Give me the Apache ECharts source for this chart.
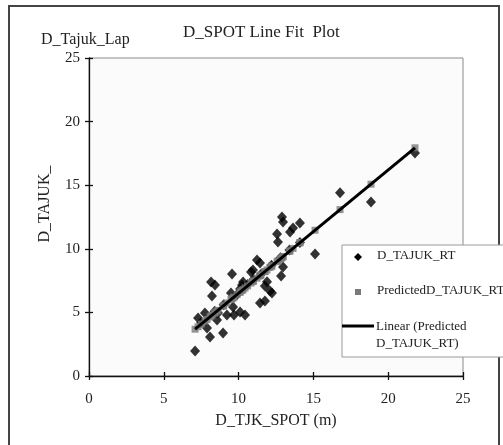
<!DOCTYPE html>
<html>
<head>
<meta charset="utf-8">
<script src="https://cdn.jsdelivr.net/npm/echarts@6/dist/echarts.min.js"></script>
<style>
  html, body { margin: 0; padding: 0; background: #fff; }
  #chart { width: 503px; height: 445px; }
</style>
</head>
<body>
<div id="chart"></div>
<script>
// Observed canopy diameter from field survey vs. SPOT-derived diameter
const spotX = [7.09, 8.09, 8.96, 7.89, 7.29, 7.75, 8.56, 8.62, 9.22, 9.69, 10.10, 10.43, 9.63, 8.22, 9.49,
  8.16, 8.42, 9.56, 10.23, 11.43, 11.76, 12.10, 12.23, 11.90, 11.76, 11.23, 11.43, 10.96, 10.83, 12.90,
  12.97, 13.44, 13.64, 14.10, 12.57, 12.63, 15.11, 12.97, 12.84, 10.30, 10.10, 16.78, 18.85, 21.79,
  9.0, 9.9, 10.6, 11.5, 12.2, 12.8, 13.4, 14.1, 8.4, 11.0, 7.5];
const tajukRT = [1.97, 3.07, 3.38, 3.77, 4.56, 4.95, 4.40, 4.95, 4.80, 4.80, 5.03, 4.80, 5.42, 6.29, 6.53,
  7.39, 7.15, 8.02, 7.15, 5.74, 5.90, 6.68, 6.52, 7.40, 7.08, 9.12, 8.88, 8.33, 8.18, 12.50,
  12.10, 11.32, 11.64, 12.03, 11.16, 10.53, 9.59, 8.57, 7.86, 7.39, 6.84, 14.40, 13.68, 17.53,
  5.6, 6.4, 7.2, 8.0, 8.7, 9.3, 9.9, 10.5, 5.1, 7.6, 4.2];
const predictedRT = [3.68, 4.65, 5.49, 4.45, 3.87, 4.32, 5.10, 5.16, 5.74, 6.20, 6.60, 6.92, 6.14, 4.77, 6.01,
  4.72, 4.97, 6.07, 6.72, 7.89, 8.21, 8.54, 8.66, 8.34, 8.21, 7.69, 7.89, 7.43, 7.31, 9.31,
  9.38, 9.84, 10.03, 10.48, 8.99, 9.05, 11.46, 9.38, 9.25, 6.79, 6.60, 13.08, 15.08, 17.94,
  5.53, 6.40, 7.08, 7.96, 8.63, 9.22, 9.80, 10.48, 4.95, 7.47, 4.08];
// Trendline end points (min and max x of the predicted series)
const trendX = [7.09, 21.79];
const trendY = [3.68, 17.94];
const axisTicks = [0, 5, 10, 15, 20, 25];

const FONT = '"Liberation Serif", "DejaVu Serif", serif';
const TXT = '#222';

const observed = spotX.map((x, i) => [x, tajukRT[i]]);
const predicted = spotX.map((x, i) => [x, predictedRT[i]]);
const trend = trendX.map((x, i) => [x, trendY[i]]);

const chart = echarts.init(document.getElementById('chart'), null, { renderer: 'canvas' });

const mainX = {
  type: 'value', min: axisTicks[0], max: axisTicks[axisTicks.length - 1], interval: 5,
  position: 'bottom',
  axisLine: { show: true, onZero: false, lineStyle: { color: '#111', width: 1.3 } },
  axisTick: { show: true, inside: false, length: 4, lineStyle: { color: '#111', width: 1.3 } },
  axisLabel: { color: TXT, fontFamily: FONT, fontSize: 15, margin: 16 },
  splitLine: { show: false },
  name: 'D_TJK_SPOT (m)', nameLocation: 'middle', nameGap: 37,
  nameTextStyle: { color: TXT, fontFamily: FONT, fontSize: 16 }
};
const mainY = {
  type: 'value', min: axisTicks[0], max: axisTicks[axisTicks.length - 1], interval: 5,
  position: 'left',
  axisLine: { show: true, onZero: false, lineStyle: { color: '#111', width: 1.3 } },
  axisTick: { show: true, inside: false, length: 4, lineStyle: { color: '#111', width: 1.3 } },
  axisLabel: { color: TXT, fontFamily: FONT, fontSize: 15, margin: 9 },
  splitLine: { show: false }
};
// Companion axes give the ticks their inner half so they cross the axis line
const innerX = {
  type: 'value', min: 0, max: 25, interval: 5, position: 'bottom',
  axisLine: { show: false, onZero: false }, axisLabel: { show: false }, splitLine: { show: false },
  axisTick: { show: true, inside: true, length: 4, lineStyle: { color: '#111', width: 1.3 } }
};
const innerY = {
  type: 'value', min: 0, max: 25, interval: 5, position: 'left',
  axisLine: { show: false, onZero: false }, axisLabel: { show: false }, splitLine: { show: false },
  axisTick: { show: true, inside: true, length: 4, lineStyle: { color: '#111', width: 1.3 } }
};

const LX = 342, LY = 245;

chart.setOption({
  animation: false,
  backgroundColor: '#fff',
  grid: {
    left: 89, top: 58, width: 374, height: 318,
    show: true, borderColor: '#8a8a8a', borderWidth: 1, backgroundColor: '#fbfbfb'
  },
  xAxis: [mainX, innerX],
  yAxis: [mainY, innerY],
  series: [
    {
      name: 'D_TAJUK_RT', type: 'scatter', data: observed,
      symbol: 'diamond', symbolSize: [10, 11],
      itemStyle: { color: '#000' }, z: 2
    },
    {
      name: 'Predicted D_TAJUK_RT', type: 'scatter', data: predicted,
      symbol: 'rect', symbolSize: 7,
      itemStyle: { color: '#7a7a7a' }, z: 3
    },
    {
      name: 'Linear (Predicted D_TAJUK_RT)', type: 'line', data: trend,
      symbol: 'none', lineStyle: { color: '#000', width: 3 }, z: 4
    }
  ],
  graphic: [
    // outer chart frame
    { type: 'rect', shape: { x: 9, y: 6, width: 490, height: 460 },
      style: { fill: 'none', stroke: '#444', lineWidth: 2 }, z: 1 },
    { type: 'text', x: 41, y: 32,
      style: { text: 'D_Tajuk_Lap', fill: TXT, font: '16px ' + FONT } },
    { type: 'text', x: 183, y: 24,
      style: { text: 'D_SPOT Line Fit  Plot', fill: TXT, font: '17px ' + FONT } },
    // vertical axis title
    { type: 'text', x: 45, y: 204, rotation: Math.PI / 2,
      style: { text: 'D_TAJUK_', fill: TXT, font: '16px ' + FONT, align: 'center', verticalAlign: 'middle' } },
    // legend box
    { type: 'rect', shape: { x: LX, y: LY, width: 170, height: 112 },
      style: { fill: '#fff', stroke: '#9a9a9a', lineWidth: 1 }, z: 10 },
    { type: 'polygon', shape: { points: [[358, 253], [362, 257], [358, 261], [354, 257]] },
      style: { fill: '#000' }, z: 11 },
    { type: 'text', x: 377, y: 249,
      style: { text: 'D_TAJUK_RT', fill: TXT, font: '13px ' + FONT }, z: 11 },
    { type: 'rect', shape: { x: 355, y: 289, width: 6, height: 6 },
      style: { fill: '#7a7a7a' }, z: 11 },
    { type: 'text', x: 377, y: 284,
      style: { text: 'PredictedD_TAJUK_RT', fill: TXT, font: '13px ' + FONT }, z: 11 },
    { type: 'line', shape: { x1: 342, y1: 326, x2: 374, y2: 326 },
      style: { stroke: '#000', lineWidth: 3 }, z: 11 },
    { type: 'text', x: 376, y: 318,
      style: { text: 'Linear (Predicted\nD_TAJUK_RT)', fill: TXT, font: '13px ' + FONT, lineHeight: 17 }, z: 11 }
  ]
});
</script>
</body>
</html>
